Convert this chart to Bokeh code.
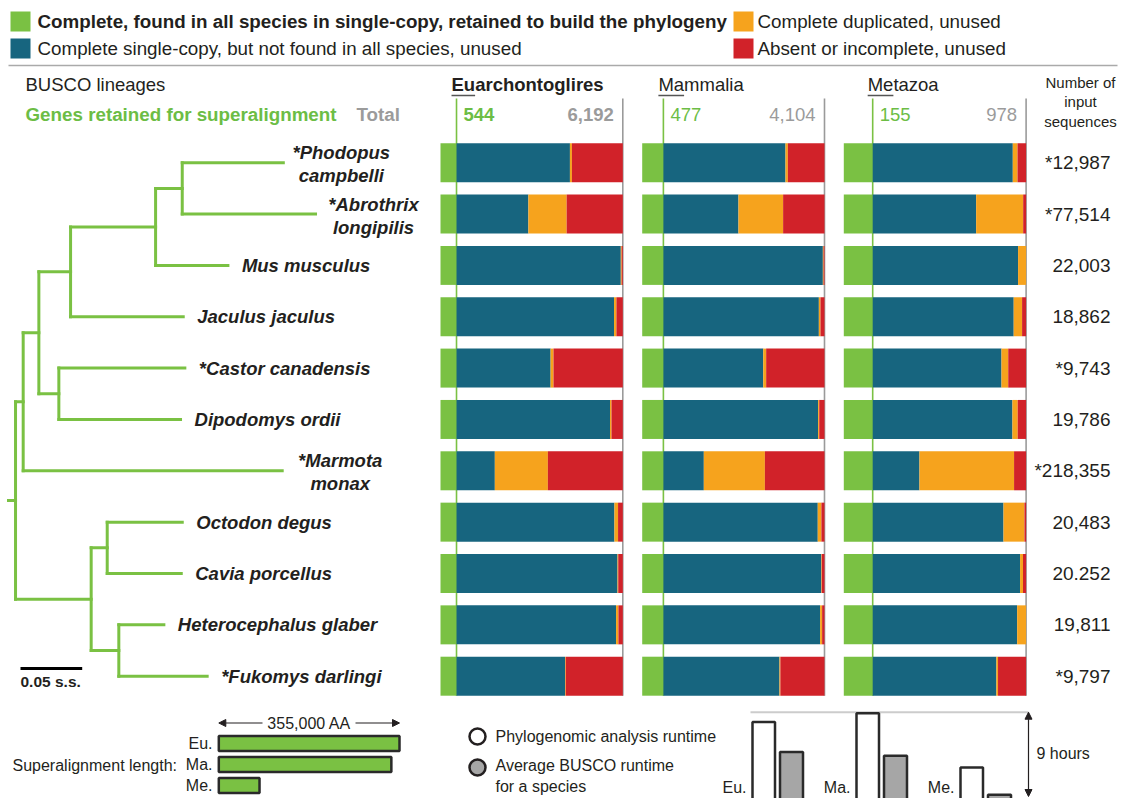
from bokeh.plotting import figure
from bokeh.models import Range1d, Arrow, NormalHead
from bokeh.core.properties import value
from bokeh.embed import file_html
from bokeh.resources import INLINE

# ---------------- data ----------------
species = ["*Phodopus campbelli", "*Abrothrix longipilis", "Mus musculus", "Jaculus jaculus",
           "*Castor canadensis", "Dipodomys ordii", "*Marmota monax", "Octodon degus",
           "Cavia porcellus", "Heterocephalus glaber", "*Fukomys darlingi"]
wrap_label = [True, True, False, False, False, False, True, False, False, False, False]
input_sequences = ["*12,987", "*77,514", "22,003", "18,862", "*9,743", "19,786",
                   "*218,355", "20,483", "20.252", "19,811", "*9,797"]

lineages = ["Euarchontoglires", "Mammalia", "Metazoa"]
lineage_abbr = ["Eu", "Ma", "Me"]
genes_retained = [544, 477, 155]
genes_total = [6192, 4104, 978]

# BUSCO results (% of lineage genes): complete single-copy, complete duplicated
eu_single = [71.0, 48.2, 98.9, 95.2, 60.4, 93.0, 29.8, 95.4, 97.1, 96.3, 68.3]
eu_dup = [1.1, 21.0, 0.5, 1.3, 1.6, 0.8, 29.1, 2.0, 0.4, 1.3, 0.4]
ma_single = [78.6, 52.8, 99.1, 96.9, 66.4, 96.5, 33.8, 96.3, 98.2, 97.6, 75.3]
ma_dup = [1.3, 24.5, 0.4, 0.9, 1.6, 0.6, 33.5, 2.0, 0.3, 1.1, 0.5]
me_single = [92.7, 72.6, 95.6, 93.2, 86.5, 92.5, 41.5, 87.6, 96.7, 95.1, 83.7]
me_dup = [2.6, 25.8, 4.4, 4.6, 3.7, 2.9, 51.9, 11.5, 1.6, 4.9, 0.9]

# phylogeny: tips 0..10 (species order), internal nodes 11..20
tip_parent = [16, 16, 15, 14, 17, 17, 12, 19, 19, 20, 20]
tip_branch = [0.0819, 0.1080, 0.0586, 0.0913, 0.1021, 0.0986, 0.2099, 0.0608, 0.0600, 0.0365, 0.0716]
node_parent = [-1, 11, 12, 13, 14, 15, 13, 11, 18, 18]
node_branch = [0.0057, 0.0062, 0.0127, 0.0257, 0.0689, 0.0216, 0.0162, 0.0613, 0.0130, 0.0224]
scale_bar_ss = 0.05

align_labels = ["Eu.", "Ma.", "Me."]
align_length_aa = [355000, 339000, 80000]
align_ruler_aa = 355000

runtime_labels = ["Eu.", "Ma.", "Me."]
runtime_phylo_h = [8.0, 8.9, 3.3]
runtime_busco_h = [4.9, 4.5, 0.5]
runtime_ref_h = 9

legend_labels = ["Complete, found in all species in single-copy, retained to build the phylogeny",
                 "Complete single-copy, but not found in all species, unused",
                 "Complete duplicated, unused",
                 "Absent or incomplete, unused"]

# ---------------- style ----------------
GREEN = "#7ac143"
BLUE = "#17657f"
ORANGE = "#f6a31d"
RED = "#d12229"
TEXT = "#231f20"
GREYTXT = "#9b9b9b"
GREYLINE = "#9a9a9a"
FONT = value("Liberation Sans")

W, H = 1125, 798
p = figure(width=W, height=H, x_range=Range1d(0, W), y_range=Range1d(H, 0),
           output_backend="svg", toolbar_location=None, min_border=0,
           x_axis_type=None, y_axis_type=None)
p.outline_line_color = None
p.background_fill_color = "white"
p.border_fill_color = "white"


def txt(x, y, t, size="18.5px", style="normal", color=TEXT, align="left", baseline="middle"):
    p.text(x=x, y=y, text=t, text_font=FONT, text_font_size=size, text_font_style=style,
           text_color=color, text_align=align, text_baseline=baseline)


n = len(species)
ROW_Y0, ROW_DY, BAR_H = 162.2, 51.35, 39
row_y = [ROW_Y0 + i * ROW_DY for i in range(n)]

# ---------------- top legend ----------------
leg_x = [10, 10, 733, 733]
leg_y = [21, 48, 21, 48]
leg_col = [GREEN, BLUE, ORANGE, RED]
p.quad(left=leg_x, right=[x + 20 for x in leg_x], top=[y - 10 for y in leg_y],
       bottom=[y + 10 for y in leg_y], fill_color=leg_col, line_color=None)
txt([leg_x[0] + 27], [leg_y[0]], [legend_labels[0]], size="18.8px", style="bold")
txt([leg_x[1] + 27, leg_x[2] + 24, leg_x[3] + 24], leg_y[1:], legend_labels[1:], size="18.8px")
p.segment(x0=[8], y0=[65], x1=[1117], y1=[65], line_color="#aaaaaa", line_width=1.5)

# ---------------- headers ----------------
txt([25], [84], ["BUSCO lineages"])
txt([25], [114], ["Genes retained for superalignment"], size="18.8px", style="bold", color="#6cbd45")
txt([356], [114], ["Total"], size="18.8px", style="bold", color=GREYTXT)
txt([1080, 1080, 1080], [82, 101, 121], ["Number of", "input", "sequences"], size="15px", align="center")

# ---------------- BUSCO bars ----------------
PANEL_X = [440, 641.7, 843.3]
PANEL_W = 182.3
singles = [eu_single, ma_single, me_single]
dups = [eu_dup, ma_dup, me_dup]
abbr_w = [23.6, 25.7, 25.7]
L, R, T, B, C = [], [], [], [], []
for k in range(3):
    g = genes_retained[k] / genes_total[k] * 100
    x0 = PANEL_X[k]
    gx = x0 + g / 100 * PANEL_W
    # guide lines
    p.segment(x0=[gx], y0=[98], x1=[gx], y1=[row_y[-1] + BAR_H / 2], line_color=GREEN, line_width=1.6)
    p.segment(x0=[x0 + PANEL_W], y0=[98], x1=[x0 + PANEL_W], y1=[row_y[-1] + BAR_H / 2],
              line_color=GREYLINE, line_width=1.6)
    sel = k == 0
    txt([gx - 5], [84], [lineages[k]], size="18.5px", style="bold" if sel else "normal")
    p.segment(x0=[gx - 5], y0=[95], x1=[gx - 5 + abbr_w[k]], y1=[95], line_color="#555555", line_width=1.5)
    txt([gx + 7], [114], [str(genes_retained[k])], style="bold" if sel else "normal", color="#6cbd45")
    txt([x0 + PANEL_W - 9], [114], ["{:,}".format(genes_total[k])], style="bold" if sel else "normal",
        color=GREYTXT, align="right")
    for i in range(n):
        s = singles[k][i]
        d = dups[k][i]
        edges = [0, g, s, s + d, 100]
        for j, col in enumerate([GREEN, BLUE, ORANGE, RED]):
            if edges[j + 1] > edges[j]:
                L.append(x0 + edges[j] / 100 * PANEL_W)
                R.append(x0 + edges[j + 1] / 100 * PANEL_W)
                T.append(row_y[i] - BAR_H / 2)
                B.append(row_y[i] + BAR_H / 2)
                C.append(col)
p.quad(left=L, right=R, top=T, bottom=B, fill_color=C, line_color=None)

# input sequences
txt([1110] * n, row_y, input_sequences, size="19px", align="right")

# ---------------- tree ----------------
PX_PER_SS = 1234.0
TREE_X0 = 8
nn = len(node_parent)
node_depth = [0.0] * nn
for j in range(nn):
    par = node_parent[j]
    node_depth[j] = node_branch[j] + (node_depth[par - n] if par >= 0 else 0.0)
tip_depth = [node_depth[tip_parent[i] - n] + tip_branch[i] for i in range(n)]
node_x = [TREE_X0 + d * PX_PER_SS for d in node_depth]
tip_x = [TREE_X0 + d * PX_PER_SS for d in tip_depth]

children = {j: [] for j in range(nn)}
for i in range(n):
    children[tip_parent[i] - n].append(("t", i))
for j in range(nn):
    if node_parent[j] >= 0:
        children[node_parent[j] - n].append(("n", j))
node_y = [0.0] * nn
node_span = [(0, 0)] * nn
for j in reversed(range(nn)):
    ys = [row_y[c] if t == "t" else node_y[c] for t, c in children[j]]
    node_span[j] = (min(ys), max(ys))
    node_y[j] = (min(ys) + max(ys)) / 2

x0s, y0s, x1s, y1s = [], [], [], []
for i in range(n):
    x0s.append(node_x[tip_parent[i] - n]); y0s.append(row_y[i]); x1s.append(tip_x[i]); y1s.append(row_y[i])
for j in range(nn):
    px = node_x[node_parent[j] - n] if node_parent[j] >= 0 else TREE_X0
    x0s.append(px); y0s.append(node_y[j]); x1s.append(node_x[j]); y1s.append(node_y[j])
    x0s.append(node_x[j]); y0s.append(node_span[j][0]); x1s.append(node_x[j]); y1s.append(node_span[j][1])
p.segment(x0=x0s, y0=y0s, x1=x1s, y1=y1s, line_color=GREEN, line_width=3, line_cap="square")

# species labels
sx, sy, st, cx, cy, ct = [], [], [], [], [], []
for i in range(n):
    if wrap_label[i]:
        a, b = species[i].split(" ")
        cx += [tip_x[i] + 58, tip_x[i] + 58]
        cy += [row_y[i] - 10, row_y[i] + 13]
        ct += [a, b]
    else:
        sx.append(tip_x[i] + 14); sy.append(row_y[i]); st.append(species[i])
txt(sx, sy, st, size="18.5px", style="bold italic")
txt(cx, cy, ct, size="18.5px", style="bold italic", align="center")

# scale bar
p.segment(x0=[20], y0=[668], x1=[20 + scale_bar_ss * PX_PER_SS], y1=[668], line_color="black", line_width=3)
txt([20], [681], ["0.05 s.s."], size="15.5px", style="bold")

# ---------------- superalignment length ----------------
SA_X0, SA_W = 218.3, 180.7
sa_y = [743, 764, 785]
p.quad(left=[SA_X0] * 3, right=[SA_X0 + a / align_ruler_aa * SA_W for a in align_length_aa],
       top=[y - 7.5 for y in sa_y], bottom=[y + 7.5 for y in sa_y],
       fill_color=GREEN, line_color="#2a2a2a", line_width=2.5)
txt([212] * 3, sa_y, align_labels, size="16px", align="right")
txt([12], [765], ["Superalignment length:"], size="16px")
txt([SA_X0 + SA_W / 2], [722.5], ["{:,} AA".format(align_ruler_aa)], size="16px", align="center")
p.add_layout(Arrow(end=NormalHead(size=7, fill_color=TEXT, line_color=TEXT), x_start=262, y_start=722.5,
                   x_end=SA_X0, y_end=722.5, line_width=1.2, line_color=TEXT))
p.add_layout(Arrow(end=NormalHead(size=7, fill_color=TEXT, line_color=TEXT), x_start=355, y_start=722.5,
                   x_end=SA_X0 + SA_W, y_end=722.5, line_width=1.2, line_color=TEXT))

# ---------------- runtime legend ----------------
p.scatter(x=[477, 477], y=[736, 767], size=16, fill_color=["white", "#a6a6a6"], line_color=TEXT, line_width=2.5)
txt([495, 495, 495], [736, 765, 786], ["Phylogenomic analysis runtime", "Average BUSCO runtime", "for a species"],
    size="16px")

# ---------------- runtime bars ----------------
RT_BASE = 799.0
RT_PX_H = 87.3 / runtime_ref_h
rt_x = [752, 856, 960]
ref_y = RT_BASE - runtime_ref_h * RT_PX_H
p.segment(x0=[750], y0=[ref_y], x1=[1028], y1=[ref_y], line_color="#cccccc", line_width=2)
p.quad(left=rt_x, right=[x + 22.5 for x in rt_x], top=[RT_BASE - h * RT_PX_H for h in runtime_phylo_h],
       bottom=[RT_BASE + 5] * 3, fill_color="white", line_color="#2a2a2a", line_width=2.5)
p.quad(left=[x + 27.5 for x in rt_x], right=[x + 50.5 for x in rt_x],
       top=[RT_BASE - h * RT_PX_H for h in runtime_busco_h],
       bottom=[RT_BASE + 5] * 3, fill_color="#a6a6a6", line_color="#2a2a2a", line_width=2.5)
txt([x - 6 for x in rt_x], [787] * 3, runtime_labels, size="16px", align="right")
p.add_layout(Arrow(start=NormalHead(size=7, fill_color=TEXT, line_color=TEXT),
                   end=NormalHead(size=7, fill_color=TEXT, line_color=TEXT),
                   x_start=1028, y_start=ref_y, x_end=1028, y_end=RT_BASE - 3, line_width=1.2, line_color=TEXT))
txt([1036], [753], ["{} hours".format(runtime_ref_h)], size="16px")

open("out.html", "w").write(file_html(p, INLINE))
